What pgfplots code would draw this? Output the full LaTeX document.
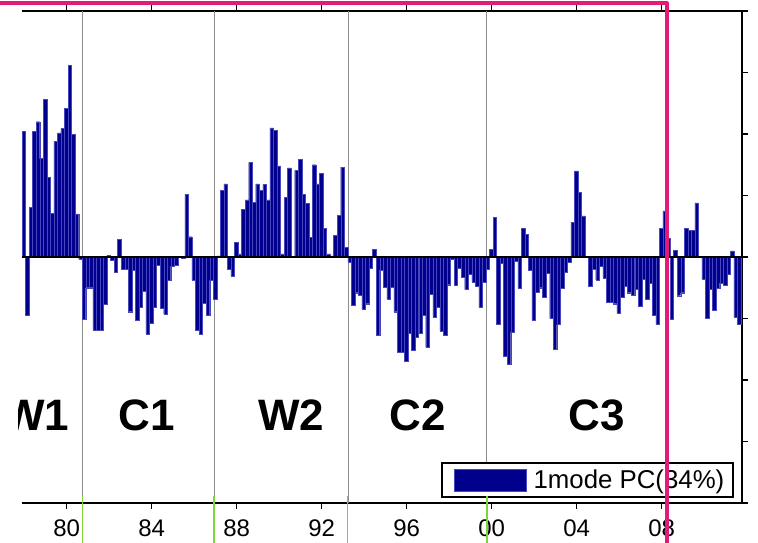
\documentclass[border=0pt]{standalone}
\usepackage{pgfplots}
\pgfplotsset{compat=1.18}
\usepackage{pgfplotstable}
\usepackage{fontspec}
\setmainfont{Liberation Sans}
\definecolor{barnavy}{RGB}{0,0,140}
\definecolor{baredge}{RGB}{70,70,190}
\definecolor{pinkline}{RGB}{228,26,120}
\definecolor{gridgray}{RGB}{140,140,140}
\definecolor{mkgreen}{RGB}{130,210,60}

\pgfplotstableread{
k v
0 2.04
1 -0.94
2 0.81
3 2.04
4 2.20
5 1.60
6 2.56
7 1.30
8 0.71
9 1.88
10 2.02
11 2.09
12 2.42
13 3.12
14 1.99
15 0.70
16 -0.04
17 -1.01
18 -0.50
19 -0.50
20 -1.19
21 -1.19
22 -1.19
23 -0.77
24 0.03
25 -0.05
26 -0.25
27 0.29
28 -0.20
29 -0.20
30 -0.89
31 -0.22
32 -1.03
33 -0.81
34 -0.55
35 -1.25
36 -1.07
37 -0.81
38 -0.13
39 -0.83
40 -0.93
41 -0.38
42 -0.15
43 -0.13
44 0.00
45 -0.02
46 1.02
47 0.33
48 -0.38
49 -1.19
50 -1.25
51 -0.75
52 -0.94
53 -0.38
54 -0.68
55 0.02
56 1.08
57 1.19
58 -0.20
59 -0.31
60 0.24
61 0.05
62 0.77
63 0.93
64 1.54
65 0.89
66 1.19
67 1.08
68 1.18
69 0.93
70 2.10
71 2.06
72 1.48
73 0.05
74 0.97
75 1.45
76 0.00
77 1.41
78 1.59
79 1.02
80 0.87
81 0.32
82 1.50
83 1.19
84 1.36
85 0.47
86 0.05
87 0.02
88 0.35
89 0.68
90 1.46
91 0.16
92 -0.08
93 -0.78
94 -0.58
95 -0.62
96 -0.85
97 -0.76
98 -0.18
99 0.13
100 -1.27
101 -0.21
102 -0.49
103 -0.68
104 -0.49
105 -0.89
106 -1.55
107 -1.55
108 -1.69
109 -1.24
110 -1.52
111 -1.30
112 -1.24
113 -0.94
114 -1.47
115 -0.61
116 -0.98
117 -0.82
118 -1.20
119 -1.27
120 -0.45
121 -0.03
122 -0.46
123 -0.18
124 -0.33
125 -0.53
126 -0.28
127 -0.41
128 -0.48
129 -0.81
130 -0.41
131 -0.20
132 0.12
133 0.65
134 -1.09
135 -0.10
136 -1.61
137 -1.74
138 -1.22
139 -0.07
140 -0.51
141 0.47
142 0.37
143 -0.22
144 -1.03
145 -0.57
146 -0.50
147 -0.65
148 -0.26
149 -1.00
150 -1.50
151 -1.10
152 -0.51
153 -0.24
154 -0.08
155 0.56
156 1.40
157 1.05
158 0.67
159 0.00
160 -0.48
161 -0.20
162 -0.37
163 -0.15
164 -0.34
165 -0.74
166 -0.74
167 -0.76
168 -0.91
169 -0.65
170 -0.48
171 -0.58
172 -0.62
173 -0.52
174 -0.80
175 -0.36
176 -0.68
177 -0.42
178 -0.95
179 -1.10
180 0.47
181 0.75
182 0.30
183 -1.01
184 0.11
185 -0.63
186 -0.58
187 0.47
188 0.43
189 0.43
190 0.88
191 0.00
192 -0.36
193 -1.00
194 -0.52
195 -0.87
196 -0.51
197 -0.42
198 -0.46
199 -0.28
200 0.10
201 -0.98
202 -1.10
203 -0.33
}\pcdata

\begin{document}
\begin{tikzpicture}
\useasboundingbox (0pt,0pt) rectangle (758pt,543pt);
\clip (0pt,0pt) rectangle (758pt,543pt);
\begin{axis}[
  at={(22pt,40pt)}, anchor=south west,
  scale only axis, width=720pt, height=492pt,
  xmin=1977.896, xmax=2011.78, ymin=-4, ymax=4,
  axis x line*=box, axis y line*=right,
  axis line style={line width=2.5pt},
  xtick={1980,1984,...,2008},
  xticklabels={80,84,88,92,96,00,04,08},
  minor x tick num=4,
  ytick={-4,-3,...,4}, yticklabels={},
  tick align=outside,
  major tick length=6pt, minor tick length=4pt,
  every tick/.style={line width=1.3pt, black},
  xticklabel style={font=\fontsize{24}{24}\selectfont, yshift=-7pt},
  extra x ticks={1980.753,1986.93,1993.24,1999.76},
  extra x tick labels={},
  extra x tick style={grid=major, major tick length=0pt,
    major grid style={gridgray, line width=0.8pt}},
  legend style={at={(0.582,0.010)}, anchor=south west, draw=black,
    line width=2pt, fill=white, inner xsep=12pt, inner ysep=5pt,
    font=\fontsize{25.8}{25.8}\selectfont,
    nodes={inner xsep=4pt}},
  legend cell align=left,
]
\addplot[ybar, bar width=0.1667, fill=barnavy, draw=baredge, line width=0.3pt,
  legend image code/.code={\draw[fill=barnavy, draw=baredge, line width=0.6pt] (0pt,-11pt) rectangle (72pt,11pt);}]
  table[x expr={1977.896+(\thisrow{k}+0.5)/6}, y=v] {\pcdata};
\addlegendentry{\makebox[186pt][l]{\hspace{3pt}1mode PC(34\%)}}
\draw[black, line width=1.5pt] (axis cs:1977.896,0) -- (axis cs:2011.78,0);
\end{axis}
\foreach \gx in {82.7,214,347.5,487}{
  \draw[mkgreen, line width=1.2pt] (\gx pt,47pt) -- (\gx pt,0pt);
}
\begin{scope}[every node/.style={font=\fontsize{44}{44}\selectfont\bfseries}]
\begin{scope}
\clip (18pt,0pt) rectangle (100pt,300pt);
\node at (36pt,128pt) {W1};
\end{scope}
\node at (147pt,128pt) {C1};
\node at (291pt,128pt) {W2};
\node at (418pt,128pt) {C2};
\node at (597pt,128pt) {C3};
\end{scope}
\draw[pinkline, line width=4pt, line join=round] (0pt,540pt) -- (666.7pt,540pt) -- (666.7pt,0pt);
\end{tikzpicture}
\end{document}
